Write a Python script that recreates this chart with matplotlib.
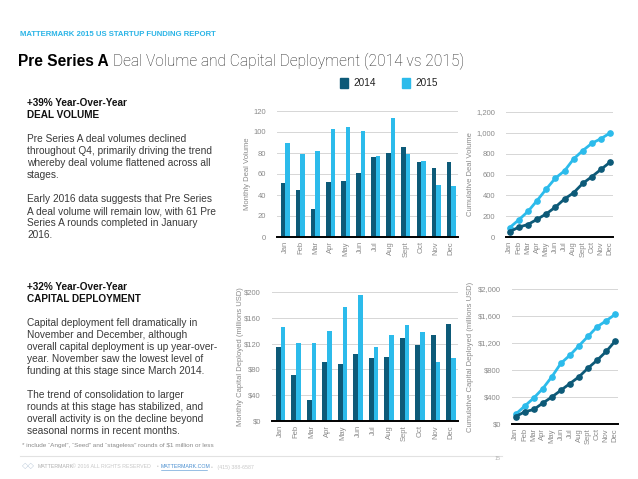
import matplotlib
matplotlib.use('Agg')
import matplotlib.pyplot as plt
from matplotlib.patches import Rectangle
from matplotlib.ticker import FuncFormatter, MultipleLocator

# data
months = ['Jan', 'Feb', 'Mar', 'Apr', 'May', 'Jun', 'Jul', 'Aug', 'Sept', 'Oct', 'Nov', 'Dec']

deals_2014 = [51, 45, 27, 52, 53, 61, 76, 80, 86, 71, 66, 71]
deals_2015 = [90, 79, 82, 103, 105, 101, 77, 113, 79, 72, 50, 49]
cum_deals_2014 = [50, 95, 120, 170, 222, 287, 365, 425, 515, 580, 650, 720]
cum_deals_2015 = [90, 165, 245, 350, 460, 565, 635, 750, 830, 900, 945, 1000]

capital_2014 = [114, 71, 33, 92, 88, 104, 98, 100, 129, 118, 133, 150]
capital_2015 = [145, 121, 121, 140, 176, 196, 115, 133, 149, 138, 92, 97]
cum_capital_2014 = [110, 180, 215, 310, 400, 500, 600, 700, 830, 945, 1075, 1230]
cum_capital_2015 = [145, 265, 385, 525, 700, 900, 1020, 1160, 1300, 1440, 1530, 1625]

C14 = '#0d5a78'
C15 = '#2cbbeb'
GRID = '#d6d6d6'
TICK = '#8a8a8a'

W, H = 638, 479
plt.rcParams['font.family'] = ['Liberation Sans', 'DejaVu Sans']
fig = plt.figure(figsize=(W / 100, H / 100), dpi=100)
fig.patch.set_facecolor('white')


def ax_px(l, t, r, b):
    return fig.add_axes([l / W, 1 - b / H, (r - l) / W, (b - t) / H])


def style(ax, ymax, step, fmt, ylabel, lab_x):
    ax.set_ylim(0, ymax)
    ax.yaxis.set_major_locator(MultipleLocator(step))
    ax.yaxis.set_major_formatter(FuncFormatter(fmt))
    ax.grid(axis='y', color=GRID, linewidth=0.7)
    ax.set_axisbelow(True)
    for s in ['left', 'right', 'top']:
        ax.spines[s].set_visible(False)
    ax.spines['bottom'].set_linewidth(1.4)
    ax.spines['bottom'].set_color('black')
    ax.tick_params(axis='y', length=0, labelsize=5.5, labelcolor=TICK, pad=8)
    ax.tick_params(axis='x', length=0, labelsize=5.5, labelcolor=TICK, rotation=90, pad=3)
    ax.set_xticks(range(12))
    ax.set_xticklabels(months)
    pos = ax.get_position()
    fig.text(lab_x / W, pos.y0 + pos.height / 2, ylabel, rotation=90,
             ha='center', va='center', fontsize=5.5, color=TICK)


def bars(ax, a, b):
    x = range(12)
    ax.bar([i - 0.15 for i in x], a, width=0.3, color=C14)
    ax.bar([i + 0.15 for i in x], b, width=0.3, color=C15)
    ax.set_xlim(-0.55, 11.45)


def lines(ax, a, b):
    ax.plot(range(12), b, color=C15, linewidth=2, marker='o', markersize=3.8)
    ax.plot(range(12), a, color=C14, linewidth=2, marker='o', markersize=3.8)
    ax.set_xlim(-0.4, 11.3)


num = lambda v, p: f'{int(v):,}'
money = lambda v, p: f'${int(v):,}'

ax1 = ax_px(277, 111, 458, 237)
bars(ax1, deals_2014, deals_2015)
style(ax1, 120, 20, num, 'Monthly Deal Volume', 248)

ax2 = ax_px(506, 112, 613, 237)
lines(ax2, cum_deals_2014, cum_deals_2015)
style(ax2, 1200, 200, num, 'Cumulative Deal Volume', 471)

ax3 = ax_px(272, 292, 458, 421)
bars(ax3, capital_2014, capital_2015)
style(ax3, 200, 40, money, 'Monthly Capital Deployed (millions USD)', 240)

ax4 = ax_px(512, 289, 618, 424)
lines(ax4, cum_capital_2014, cum_capital_2015)
style(ax4, 2000, 400, money, 'Cumulative Capital Deployed (millions USD)', 470)


def t(x, y, s, **kw):
    return fig.text(x / W, 1 - y / H, s, **kw)


# header
t(20, 34, 'MATTERMARK 2015 US STARTUP FUNDING REPORT', fontsize=5.6,
  fontweight='bold', color='#2ab4e6', va='center')
bold = t(18, 61, 'Pre Series A', fontsize=11.2, fontweight='bold', color='black', va='center')
r = fig.canvas.get_renderer()
x_end = bold.get_window_extent(r).x1
t(x_end + 4, 61, 'Deal Volume and Capital Deployment (2014 vs 2015)', fontsize=11.2,
  family=['Roboto', 'Liberation Sans'], fontweight='light', color='#222222', va='center')

# legend
for x0, c, lab in [(340, C14, '2014'), (402, C15, '2015')]:
    fig.add_artist(Rectangle((x0 / W, 1 - 88 / H), 8 / W, 10 / H, color=c,
                             transform=fig.transFigure))
    t(x0 + 13, 83, lab, fontsize=7.2, color='#222222', va='center')

# left text blocks
body = dict(fontsize=7.25, color='#3a3a3a', va='center')
head = dict(fontsize=7.2, fontweight='bold', color='#111111', va='center')

t(27, 103, '+39% Year-Over-Year', **head)
t(27, 115, 'DEAL VOLUME', **head)
top_lines = ['Pre Series A deal volumes declined',
             'throughout Q4, primarily driving the trend',
             'whereby deal volume flattened across all',
             'stages.',
             '',
             'Early 2016 data suggests that Pre Series',
             'A deal volume will remain low, with 61 Pre',
             'Series A rounds completed in January',
             '2016.']
for i, s in enumerate(top_lines):
    t(27, 139 + 12 * i, s, **body)

t(27, 287, '+32% Year-Over-Year', **head)
t(27, 299, 'CAPITAL DEPLOYMENT', **head)
bottom_lines = ['Capital deployment fell dramatically in',
                'November and December, although',
                'overall capital deployment is up year-over-',
                'year. November saw the lowest level of',
                'funding at this stage since March 2014.',
                '',
                'The trend of consolidation to larger',
                'rounds at this stage has stabilized, and',
                'overall activity is on the decline beyond',
                'seasonal norms in recent months.']
for i, s in enumerate(bottom_lines):
    t(27, 323 + 12 * i, s, **body)

t(22, 446, '* include \u201cAngel\u201d, \u201cSeed\u201d and \u201cstageless\u201d rounds of $1 million or less',
  fontsize=4.6, color='#8a8a8a', va='center')

# footer
fig.add_artist(plt.Line2D([20 / W, 502 / W], [1 - 455.5 / H, 1 - 455.5 / H],
                          color='#e2e2e2', linewidth=0.8))
t(22, 467, '\u25C7\u25C7', fontsize=6, color='#b8c8d8', va='center')
t(38, 467, 'MATTERMARK', fontsize=3.8, color='#b0b0b0', va='center')
t(72, 467, '\u00A9 2016 ALL RIGHTS RESERVED    \u2022', fontsize=3.8, color='#c8c8c8', va='center')
t(161, 467, 'MATTERMARK.COM', fontsize=3.8, color='#4a8fd0', va='center')
fig.add_artist(plt.Line2D([161 / W, 207 / W], [1 - 469.5 / H, 1 - 469.5 / H],
                          color='#4a8fd0', linewidth=0.4))
t(211, 467, '\u2022   (415) 388-6587', fontsize=3.8, color='#c8c8c8', va='center')
t(495, 459, '15', fontsize=3.8, color='#b0b0b0', va='center')

fig.savefig('out.png', dpi=100, facecolor='white')
